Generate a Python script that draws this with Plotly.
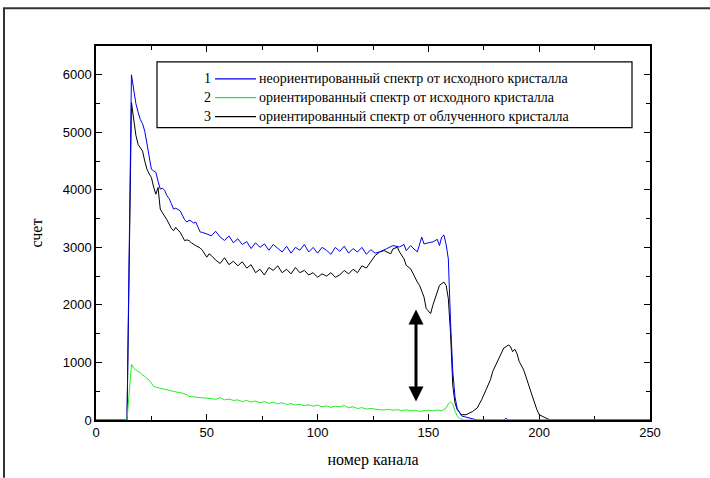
import plotly.graph_objects as go

# ---------------- data ----------------
ch_mid = list(range(52, 128, 2))  # channels 52..126

blue_x = ([0, 14, 16, 17, 18, 19, 20, 21, 22, 23, 24, 25, 26, 27, 28, 29, 30, 31, 32, 33, 34, 35,
           36, 37, 38, 39, 40, 41, 42, 43, 44, 45, 46, 47, 48, 49, 50] + ch_mid +
          [128, 131, 134, 137, 139, 140, 142, 143, 145, 147, 148, 150, 152, 154, 155, 156, 157,
           158, 159, 160, 161, 162, 163, 165, 169, 172, 184, 185, 186, 250])
blue_y = ([0, 0, 6000, 5700, 5500, 5350, 5222, 5150, 5020, 4800, 4588, 4358, 4330, 4306, 4150,
           4012, 4030, 3990, 3896, 3850, 3760, 3666, 3680, 3650, 3636, 3560, 3480, 3441, 3470,
           3460, 3420, 3441, 3350, 3268, 3260, 3250, 3234] +
          [3200, 3280, 3180, 3120, 3200, 3080, 3150, 3050, 3100, 2980, 3080, 3000, 3060, 2950,
           3050, 2980, 2920, 3020, 2900, 3000, 2950, 3050, 2920, 3000, 2900, 3000, 2950, 2880,
           3000, 2930, 3020, 2900, 2980, 2920, 3000, 2880, 2960, 2900] +
          [2922, 2974, 3031, 3008, 3050, 2945, 3031, 2990, 2922, 3180, 3060, 3080, 3095, 3140,
           3031, 3180, 3216, 3050, 2800, 1700, 850, 400, 200, 69, 22, 0, 0, 30, 0, 0])

black_x = ([0, 14, 16, 17, 18, 19, 20, 21, 22, 23, 24, 25, 26, 27, 28, 29, 30, 31, 32, 33, 34,
            35, 36, 37, 38, 39, 40, 41, 42, 43, 44, 45, 46, 47, 48, 49, 50, 51] + ch_mid +
           [128, 130, 133, 134, 136, 137, 139, 140, 142, 143, 145, 146, 148, 149, 151, 152, 154,
            155, 157, 158, 159, 160, 161, 162, 163, 165, 167, 170, 172, 174, 176, 178, 179, 181,
            182, 184, 185, 186, 187, 188, 189, 190, 191, 193, 195, 196, 197, 199, 200, 203, 205,
            250])
black_y = ([0, 0, 5516, 5193, 4950, 4790, 4720, 4674, 4500, 4358, 4280, 4214, 4050, 3925, 4041,
            3666, 3600, 3550, 3480, 3406, 3330, 3290, 3348, 3300, 3263, 3190, 3118, 3130, 3118,
            3080, 3050, 3031, 3010, 2990, 2950, 2880, 2830, 2888] +
           [2860, 2780, 2720, 2820, 2700, 2760, 2680, 2750, 2640, 2700, 2560, 2620, 2520, 2650,
            2600, 2680, 2560, 2620, 2540, 2650, 2560, 2600, 2520, 2560, 2480, 2540, 2500, 2560,
            2480, 2520, 2600, 2540, 2620, 2560, 2680, 2640, 2760, 2860] +
           [2918, 2945, 2888, 2974, 3003, 2918, 2801, 2686, 2628, 2542, 2398, 2340, 2139, 1937,
            1850, 1994, 2225, 2340, 2398, 2340, 2110, 1500, 600, 300, 180, 92, 92, 150, 208, 351,
            524, 700, 842, 1000, 1101, 1250, 1274, 1302, 1280, 1188, 1230, 1150, 1015, 870, 640,
            496, 400, 178, 92, 35, 0, 0])

green_x = ([0, 14, 16, 17, 18, 19, 20, 21, 22, 23, 24, 25, 26, 27, 28, 29, 30, 32, 34, 35, 37,
            39, 41, 42, 44, 46, 47, 48, 50] + ch_mid +
           [128, 130, 132, 134, 136, 138, 140, 142, 144, 146, 148, 150, 152, 154, 156, 158, 159,
            160, 161, 162, 163, 164, 166, 250])
green_y = ([0, 0, 968, 900, 870, 850, 820, 784, 760, 720, 697, 640, 582, 570, 560, 553, 540,
            524, 500, 496, 480, 467, 440, 410, 400, 390, 380, 385, 380] +
           [375, 360, 390, 350, 365, 340, 350, 320, 340, 310, 330, 300, 320, 290, 310, 280, 300,
            270, 285, 260, 270, 250, 265, 240, 260, 230, 245, 220, 240, 230, 250, 210, 230, 200,
            215, 190, 200, 185] +
           [178, 175, 185, 170, 180, 165, 175, 160, 170, 150, 165, 170, 160, 175, 160, 208, 280,
            310, 280, 150, 70, 30, 0, 0])

legend_nums = ["1", "2", "3"]
legend_names = ["неориентированный спектр от исходного кристалла",
                "ориентированный спектр от исходного кристалла",
                "ориентированный спектр от облученного кристалла"]
colors = ["#0000ee", "#22ee22", "#000000"]

arrow_x = 144.4
arrow_top = 1920
arrow_bottom = 294

# ---------------- figure ----------------
W, H = 710, 478
L, R, T, B = 96, 60, 46, 56
pw, ph = W - L - R, H - T - B


def px_x(px):
    return (px - L) / pw


def px_y(py):
    return (H - B - py) / ph


fig = go.Figure()
fig.add_trace(go.Scatter(x=black_x, y=black_y, mode="lines",
                         line=dict(color=colors[2], width=1), showlegend=False))
fig.add_trace(go.Scatter(x=blue_x, y=blue_y, mode="lines",
                         line=dict(color=colors[0], width=1), showlegend=False))
fig.add_trace(go.Scatter(x=green_x, y=green_y, mode="lines",
                         line=dict(color=colors[1], width=1), showlegend=False))

axis_common = dict(
    showline=True, linecolor="black", linewidth=1.5, mirror="ticks",
    ticks="inside", ticklen=6, tickwidth=1.2, tickcolor="black",
    showgrid=False, zeroline=False, layer="below traces",
    tickfont=dict(family="Liberation Sans, Arial, sans-serif", size=13, color="black"),
)

fig.update_xaxes(range=[0, 250], dtick=50, tick0=0,
                 minor=dict(dtick=25, ticks="inside", ticklen=4, tickcolor="black"),
                 title=dict(text="номер канала", standoff=14,
                            font=dict(family="Liberation Serif, Times New Roman, serif",
                                      size=16, color="black")),
                 **axis_common)
fig.update_yaxes(range=[0, 6500], dtick=1000, tick0=0,
                 minor=dict(dtick=500, ticks="inside", ticklen=4, tickcolor="black"),
                 title=dict(text="счет", standoff=16,
                            font=dict(family="Liberation Serif, Times New Roman, serif",
                                      size=16, color="black")),
                 **axis_common)

shapes = []
annotations = []

# outer image frame
shapes.append(dict(type="path", xref="paper", yref="paper",
                   path=f"M {px_x(4)},{px_y(480)} L {px_x(4)},{px_y(8)} L {px_x(712)},{px_y(8)}",
                   line=dict(color="#333333", width=2)))

# legend box
shapes.append(dict(type="rect", xref="paper", yref="paper",
                   x0=px_x(157), x1=px_x(632), y0=px_y(128), y1=px_y(62),
                   line=dict(color="black", width=1.2), fillcolor="white", layer="above"))
rows = [79, 98, 117]
for i in range(3):
    yy = px_y(rows[i])
    shapes.append(dict(type="line", xref="paper", yref="paper",
                       x0=px_x(215), x1=px_x(256), y0=yy, y1=yy,
                       line=dict(color=colors[i], width=1.2), layer="above"))
    annotations.append(dict(xref="paper", yref="paper", x=px_x(213), y=yy,
                            text=legend_nums[i], showarrow=False, xanchor="right",
                            yanchor="middle",
                            font=dict(family="Liberation Serif, Times New Roman, serif",
                                      size=14, color="black")))
    annotations.append(dict(xref="paper", yref="paper", x=px_x(257), y=yy,
                            text=legend_names[i], showarrow=False, xanchor="left",
                            yanchor="middle",
                            font=dict(family="Liberation Serif, Times New Roman, serif",
                                      size=14, color="black")))

# double-headed arrow
annotations.append(dict(x=arrow_x, y=arrow_top, ax=arrow_x, ay=arrow_bottom,
                        xref="x", yref="y", axref="x", ayref="y", text="",
                        showarrow=True, arrowside="end+start", arrowhead=2,
                        startarrowhead=2, arrowwidth=3, arrowsize=1, startarrowsize=1,
                        arrowcolor="black", standoff=0, startstandoff=0))

fig.update_layout(
    width=W, height=H,
    margin=dict(l=L, r=R, t=T, b=B, pad=0),
    paper_bgcolor="white", plot_bgcolor="white",
    shapes=shapes, annotations=annotations,
    showlegend=False,
)

fig.write_html("out.html")
